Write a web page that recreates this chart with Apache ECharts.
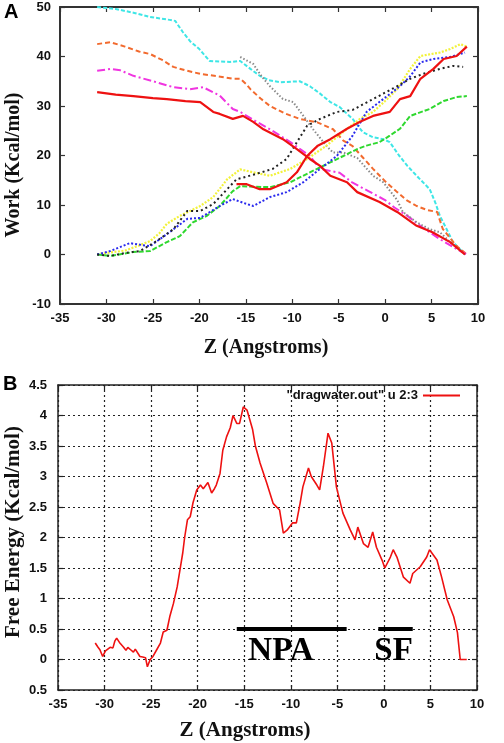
<!DOCTYPE html>
<html>
<head>
<meta charset="utf-8">
<script src="https://cdn.jsdelivr.net/npm/echarts@6/dist/echarts.min.js"></script>
<style>html,body{margin:0;padding:0;background:#fff;}#c{width:504px;height:743px;}</style>
</head>
<body>
<div id="c"></div>
<script>
// ---- Panel A: work curves (Z in Angstroms, Work in Kcal/mol) ----
const workCyan = [[-31,50],[-29,49.6],[-27,48.8],[-25.3,48],[-23.2,47.4],[-22.6,47.2],[-21.8,45],[-21,43.1],[-20,41.5],[-18.9,39.1],[-16.7,38.9],[-15.6,39.1],[-14.5,37.5],[-13.5,36.1],[-12.5,35.2],[-11.3,34.8],[-9.2,35],[-8.1,34],[-7,32.5],[-5.9,30.8],[-4.9,29.8],[-3.5,27.4],[-2.4,24.7],[-1.3,23.7],[-0.2,23.3],[0.5,22.7],[1.5,20],[2.4,17.9],[3.6,15.5],[4.8,13.2],[5.4,10.5],[5.9,7.8],[6.6,5.2],[7.3,2.5],[8,1.2],[8.6,0]];
const workOrange = [[-31,42.5],[-29.6,42.9],[-28,42],[-26.5,41],[-25.3,40.5],[-24,39.3],[-22.8,37.9],[-21.5,37.2],[-19.9,36.5],[-18,36],[-16.4,35.5],[-15.6,35.5],[-15,34.5],[-14.5,33.4],[-13.4,31.5],[-12.4,30],[-10.8,28.5],[-9.2,27.4],[-7.3,26.7],[-5.6,25.3],[-4.5,23],[-3.5,21.9],[-2.4,19.6],[-1.3,17.3],[0,14.8],[1.3,12.6],[2.3,11],[3.4,9.8],[4.5,9],[5.6,8.6],[6.2,5.2],[7,3.3],[7.7,1.7],[8.8,0]];
const workMagenta = [[-31,37.1],[-29.6,37.5],[-28.5,37.2],[-27.1,36.1],[-25,35],[-22.8,33.8],[-21,33.4],[-19.6,33.8],[-17.8,32.1],[-16.4,29.4],[-15.6,28.8],[-14,27],[-12.4,25.3],[-10.2,22.7],[-8.1,19.9],[-7,17.3],[-4.9,16.5],[-3.5,14.5],[-1.8,12.8],[0,11],[1,9.5],[2.4,7.8],[4,5.5],[5.9,3.1],[7.7,1.1],[8.8,0]];
const workRedDown = [[-31,32.8],[-29,32.3],[-27.1,32],[-25,31.6],[-23.5,31.4],[-21.5,31],[-19.9,30.8],[-18.5,28.8],[-17.8,28.4],[-16.4,27.4],[-15.3,28],[-14.2,26.8],[-13.1,25.3],[-11,23.3],[-9.5,21.3],[-8.1,19.3],[-7,17.9],[-5.9,15.9],[-4.1,14.6],[-3,12.6],[-0.6,10.6],[1.3,8.6],[3.4,5.8],[5.1,4.5],[7,2.5],[8.6,0]];
const workGray = [[-15.6,39.9],[-14.2,38.5],[-13.3,36],[-12.4,34],[-11,31.4],[-9.9,30.8],[-8.8,28],[-7.8,25.4],[-6.3,21.9],[-5.6,20.6],[-4.5,20.6],[-3,19.5],[-1.3,15.9],[-0.2,14.6],[1.3,11],[1.9,8.6],[3.4,6.5],[4.8,5.1],[5.9,4.5],[7,2.5],[8.6,0]];
const workYellow = [[-31,0],[-30,0.3],[-28,0.8],[-26.5,1.8],[-25.3,2.7],[-24.3,4.3],[-23.5,6.2],[-22.1,7.8],[-21,8.8],[-19.9,9.8],[-18.5,11.6],[-17,15.2],[-15.6,17.2],[-14.2,16.6],[-12.4,15.9],[-10.2,17.3],[-8.4,19.3],[-6.3,22],[-4.1,25.4],[-2.7,27.4],[-1.3,28.8],[0,31],[1.3,33.4],[2.7,37.5],[3.8,40.1],[5.9,40.8],[7,41.5],[8.1,42.5],[8.8,42]];
const workBlue = [[-31,0],[-29.6,0.7],[-27.5,2.3],[-26.5,2],[-25.3,1.7],[-23.2,4.5],[-21.3,7.2],[-19.9,7.4],[-17.8,9.8],[-16.4,11.2],[-14.9,10.2],[-14.2,9.8],[-12.4,11.6],[-10.6,12.6],[-8.8,14.6],[-7,17.3],[-5.2,19.9],[-3.5,24],[-2,28.8],[-0.2,31.4],[1.6,34],[2.7,36],[3.8,38.8],[5.2,39.5],[7,39.9],[8.6,40.8]];
const workBlack = [[-31,0],[-29.6,-0.3],[-28,0.3],[-26.4,0.7],[-24.6,2.7],[-22.8,5.1],[-21.3,8.8],[-19.9,8.8],[-18.5,10.2],[-17,13.2],[-16,15.2],[-14.2,16.1],[-12.1,17.3],[-10.6,19.3],[-9.5,22.7],[-8.4,26],[-7,27.4],[-5.2,28.8],[-3.5,29.2],[-1.3,31.4],[1.3,34],[2.7,35.5],[4.1,36.5],[5.9,37.5],[7.3,38.1],[8.4,37.9]];
const workGreen = [[-31,0],[-29.6,-0.3],[-27.1,0.5],[-25.3,0.7],[-23.5,2.5],[-22.1,3.7],[-20.7,6.5],[-19.2,7.8],[-17.8,9.8],[-16.4,12.8],[-15.6,13.8],[-14,13.7],[-12.4,13.6],[-10.2,14.6],[-8.1,16.6],[-5.9,18.6],[-4.5,19.9],[-3,21.3],[-2,22],[-0.6,22.7],[0.5,24],[1.6,25.4],[2.7,28],[4.8,29.4],[6.3,31],[7.7,31.8],[8.8,32]];
const workRedUp = [[-16,14.2],[-14.9,14.2],[-13.5,13.2],[-12.4,13.2],[-10.6,14.6],[-9.5,16.6],[-8.4,19.9],[-7.3,21.9],[-5.9,23.3],[-4.1,25.4],[-2.7,26.8],[-1.3,28],[0.5,28.8],[1.6,31.4],[2.7,32],[3.8,35.5],[5.2,37.5],[6.3,39.5],[7.7,40.1],[8.8,42]];

// ---- Panel B: free energy profile ----
const freeEnergy = [[-31,0.27],[-30.7,0.2],[-30.5,0.16],[-30.2,0.05],[-29.9,0.14],[-29.7,0.16],[-29.4,0.2],[-29.1,0.19],[-28.9,0.3],[-28.7,0.35],[-28.4,0.28],[-28,0.21],[-27.7,0.15],[-27.5,0.2],[-27.2,0.16],[-26.9,0.12],[-26.7,0.17],[-26.5,0.16],[-26.2,0.05],[-25.9,0.04],[-25.6,0.03],[-25.4,-0.12],[-25.1,0],[-24.8,0.05],[-24.4,0.16],[-24,0.27],[-23.7,0.45],[-23.3,0.48],[-23,0.7],[-22.6,0.92],[-22.2,1.19],[-21.9,1.47],[-21.6,1.75],[-21.4,2.0],[-21.1,2.29],[-20.8,2.34],[-20.5,2.57],[-20.1,2.78],[-19.7,2.86],[-19.4,2.8],[-19.2,2.83],[-18.9,2.9],[-18.5,2.73],[-18.2,2.8],[-18,2.86],[-17.6,3.05],[-17.3,3.43],[-16.9,3.65],[-16.5,3.8],[-16.2,4.0],[-15.8,3.87],[-15.5,3.87],[-15.1,4.14],[-14.7,4.09],[-14.4,3.93],[-14.1,3.77],[-13.8,3.5],[-13.3,3.22],[-12.6,2.9],[-11.9,2.56],[-11.2,2.45],[-10.8,2.07],[-10.4,2.12],[-9.8,2.24],[-9.4,2.24],[-9,2.56],[-8.7,2.83],[-8.1,3.14],[-7.8,3.0],[-7.2,2.86],[-6.9,2.78],[-6.5,3.16],[-6,3.71],[-5.6,3.55],[-5.1,2.83],[-4.4,2.4],[-3.6,2.12],[-3.1,1.96],[-2.8,2.17],[-2.2,1.9],[-1.7,1.84],[-1.2,2.09],[-0.8,1.84],[-0.2,1.63],[0.1,1.5],[0.7,1.68],[1,1.8],[1.4,1.68],[2.1,1.35],[2.8,1.25],[3.1,1.41],[3.9,1.52],[4.6,1.68],[4.9,1.8],[5.7,1.63],[6.2,1.35],[6.8,0.98],[7.5,0.7],[7.9,0.44],[8.2,0],[8.9,0]];
const npaBar = [[-15.8,0.5],[-4,0.5]];
const sfBar = [[-0.6,0.5],[3.1,0.5]];
const regionLabels = [{name:'NPA', value:[-11.05,0.13]},{name:'SF', value:[1.04,0.13]}];
const legendName = '"dragwater.out" u 2:3';

// ---- Axis ticks ----
const xTicks = [-35,-30,-25,-20,-15,-10,-5,0,5,10];
const yTicksA = [-10,0,10,20,30,40,50];
const yTicksB = [-0.5,0,0.5,1,1.5,2,2.5,3,3.5,4,4.5];
const yTickLabelsB = ['0.5','0','0.5','1','1.5','2','2.5','3','3.5','4','4.5'];

const tickFont = {fontFamily:'Liberation Sans, Arial', fontWeight:'bold', fontSize:13, color:'#111'};
const serifBold = 'Liberation Serif, Times New Roman, serif';

function xAx(grid, pos, show, lineW, color) {
  return {type:'value', gridIndex:grid, position:pos, min:xTicks[0], max:xTicks[xTicks.length-1], interval:5,
    axisLine:{show:true, onZero:false, lineStyle:{color:color, width:lineW}},
    axisTick:{show:true, inside:true, length:5, lineStyle:{color:color, width:1.2}},
    axisLabel:{show:show, margin:8, ...tickFont},
    splitLine:{show:false}};
}
function yAx(grid, pos, show, min, max, interval, lineW, color, fmt, margin) {
  return {type:'value', gridIndex:grid, position:pos, min:min, max:max, interval:interval,
    axisLine:{show:true, onZero:false, lineStyle:{color:color, width:lineW}},
    axisTick:{show:true, inside:true, length:5, lineStyle:{color:color, width:1.2}},
    axisLabel:{show:show, margin:margin, formatter:fmt, ...tickFont},
    splitLine:{show:false}};
}

const xAxes = [
  xAx(0,'bottom',true,2,'#333'),
  xAx(0,'top',false,2,'#333'),
  Object.assign(xAx(1,'bottom',true,1.5,'#222'), {splitLine:{show:true, lineStyle:{color:'#222', type:[2,3], width:1.2}}}),
  xAx(1,'top',false,1.5,'#222')
];
const yAxes = [
  yAx(0,'left',true,yTicksA[0],yTicksA[yTicksA.length-1],10,2,'#333',null,9),
  yAx(0,'right',false,yTicksA[0],yTicksA[yTicksA.length-1],10,2,'#333',null,9),
  Object.assign(yAx(1,'left',true,yTicksB[0],yTicksB[yTicksB.length-1],0.5,1.5,'#222',
      v => yTickLabelsB[Math.round((v - yTicksB[0]) / 0.5)], 11),
    {splitLine:{show:true, lineStyle:{color:'#222', type:[2,3], width:1.2}}}),
  yAx(1,'right',false,yTicksB[0],yTicksB[yTicksB.length-1],0.5,1.5,'#222',null,11)
];

function workLine(name, data, color, type, width) {
  return {name:name, type:'line', xAxisIndex:0, yAxisIndex:0, data:data, showSymbol:false, symbol:'none',
    lineStyle:{color:color, width:width, type:type}, itemStyle:{color:color}, z:3};
}

const series = [
  workLine('cyan', workCyan, '#3EE6E6', [4,2], 2),
  workLine('orange', workOrange, '#F26A2E', [5,3], 2),
  workLine('magenta', workMagenta, '#F035E0', [8,3,2,3], 2),
  workLine('gray', workGray, '#8A8A8A', [1.5,2], 2),
  workLine('yellow', workYellow, '#F2F23A', [2,1.5], 2.2),
  workLine('green', workGreen, '#2FD82F', [5,2], 2),
  workLine('blue', workBlue, '#2A2AEE', [2,2], 2),
  workLine('black', workBlack, '#222222', [2,3], 2),
  workLine('redDown', workRedDown, '#EE1111', 'solid', 2.2),
  workLine('redUp', workRedUp, '#EE1111', 'solid', 2.2),
  {name:legendName, type:'line', xAxisIndex:2, yAxisIndex:2, data:freeEnergy, showSymbol:false, symbol:'none',
    lineStyle:{color:'#EE1111', width:1.6}, itemStyle:{color:'#EE1111'}, z:4},
  {name:'npa', type:'line', xAxisIndex:2, yAxisIndex:2, data:npaBar, showSymbol:false, symbol:'none',
    lineStyle:{color:'#000', width:4, cap:'butt'}, z:5},
  {name:'sf', type:'line', xAxisIndex:2, yAxisIndex:2, data:sfBar, showSymbol:false, symbol:'none',
    lineStyle:{color:'#000', width:4, cap:'butt'}, z:5},
  {name:'labels', type:'scatter', xAxisIndex:2, yAxisIndex:2, data:regionLabels, symbolSize:0,
    itemStyle:{color:'#000'}, z:6, silent:true,
    label:{show:true, position:'inside', formatter:p => p.name, fontFamily:serifBold, fontWeight:'bold', fontSize:33,
      color:'#000', textBorderWidth:0, textBorderColor:'transparent', opacity:1}}
];

const chart = echarts.init(document.getElementById('c'), null, {renderer:'canvas'});
chart.setOption({
  animation:false,
  backgroundColor:'#fff',
  grid:[
    {left:60, top:7, width:418, height:297},
    {left:58, top:385, width:419, height:305}
  ],
  xAxis:xAxes,
  yAxis:yAxes,
  legend:{data:[legendName], right:44, top:389, padding:0, align:'right', icon:'rect', itemWidth:37, itemHeight:2,
    itemGap:8, textStyle:{fontFamily:'Liberation Sans, Arial', fontSize:13, fontWeight:'bold', color:'#111'}},
  series:series,
  graphic:[
    {type:'text', left:4, top:2, style:{text:'A', font:'bold 20px Liberation Sans, Arial', fill:'#000'}},
    {type:'text', left:3, top:374, style:{text:'B', font:'bold 20px Liberation Sans, Arial', fill:'#000'}},
    {type:'text', x:14, y:165, rotation:Math.PI/2, style:{text:'Work (Kcal/mol)', font:'bold 20px '+serifBold, fill:'#111', align:'center', verticalAlign:'middle'}},
    {type:'text', x:14, y:532, rotation:Math.PI/2, style:{text:'Free Energy (Kcal/mol)', font:'bold 21px '+serifBold, fill:'#111', align:'center', verticalAlign:'middle'}},
    {type:'text', x:266, y:348, style:{text:'Z (Angstroms)', font:'bold 20px '+serifBold, fill:'#111', align:'center', verticalAlign:'middle'}},
    {type:'text', x:245, y:731, style:{text:'Z (Angstroms)', font:'bold 21px '+serifBold, fill:'#111', align:'center', verticalAlign:'middle'}}
  ]
});
</script>
</body>
</html>
